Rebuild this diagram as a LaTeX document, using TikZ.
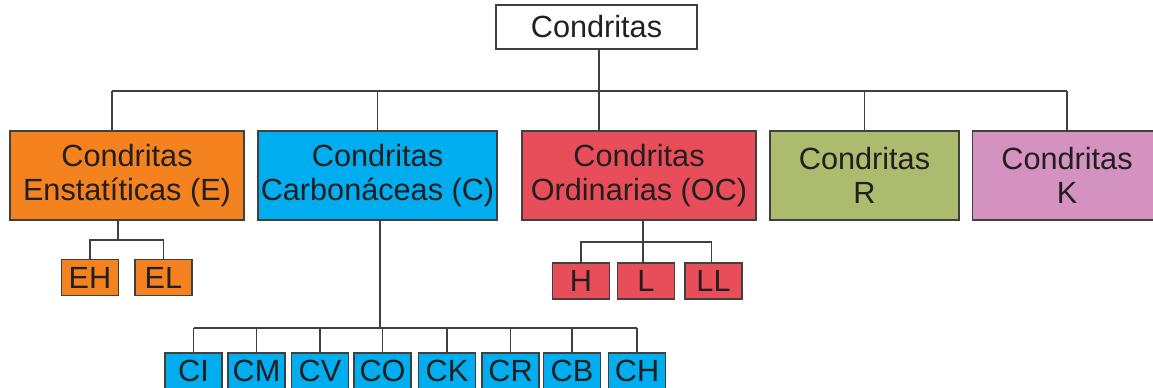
\documentclass[tikz,border=0pt]{standalone}
\usepackage{fontspec}
\setmainfont{Liberation Sans}
\usepackage{xcolor}
\usepackage{tikz}
\usetikzlibrary{positioning}

\definecolor{orangeE}{RGB}{244,130,31}
\definecolor{cyanC}{RGB}{0,174,239}
\definecolor{redOC}{RGB}{232,78,89}
\definecolor{greenR}{RGB}{173,187,111}
\definecolor{pinkK}{RGB}{211,146,191}
\definecolor{linegray}{RGB}{64,64,64}
\definecolor{textgray}{RGB}{35,31,32}

\tikzset{
    box/.style={draw=linegray, line width=1.2pt, text=textgray, align=center, inner sep=0pt,
        font=\fontsize{23}{25.5}\selectfont},
    bigbox/.style={box, minimum height=66.75pt},
    leaf/.style={box, minimum width=42.75pt, minimum height=27pt},
    link/.style={draw=linegray, line width=1.1pt}
}

\begin{document}
\begin{tikzpicture}[x=0.75pt,y=-0.75pt]
            \useasboundingbox (0,0) rectangle (1153,387);
            %root
            \node[box, minimum width=150.75pt, minimum height=33pt] (root) at (596.5,27) {Condritas};
            %groups
            \node[bigbox, fill=orangeE, minimum width=175.5pt] (E) at (127,175.5) {Condritas\\Enstatíticas (E)};
            \node[bigbox, fill=cyanC, minimum width=179.25pt] (C) at (377.5,175.5) {Condritas\\Carbonáceas (C)};
            \node[bigbox, fill=redOC, minimum width=175.5pt] (OC) at (639,175.5) {Condritas\\Ordinarias (OC)};
            \node[bigbox, fill=greenR, minimum width=141.75pt] (R) at (864.5,175.5) {Condritas\\R};
            \node[bigbox, fill=pinkK, minimum width=141.75pt] (K) at (1067,175.5) {Condritas\\K};
            %
            \coordinate (bus) at (599,91);
            \coordinate (jE) at (112,91);
            \coordinate (jOC) at (599,91);
            \draw[link] (root.south -| bus) -- (bus);
            \draw[link] (jE) -- (K.north |- bus);
            \draw[link] (jE) -- (jE |- E.north);
            \draw[link] (C.north |- bus) -- (C.north);
            \draw[link] (jOC) -- (jOC |- OC.north);
            \draw[link] (R.north |- bus) -- (R.north);
            \draw[link] (K.north |- bus) -- (K.north);
            %
            %enstatiticas
            \node[leaf, fill=orangeE] (EH) at (90,277.5) {EH};
            \node[leaf, fill=orangeE] (EL) at (163.5,277.5) {EL};
            \coordinate (ebus) at (118,240);
            \draw[link] (ebus |- E.south) -- (ebus);
            \draw[link] (EH.north) -- (EH.north |- ebus) -- (EL.north |- ebus) -- (EL.north);
            %
            %ordinarias
            \node[leaf, fill=redOC] (H) at (581,281) {H};
            \node[leaf, fill=redOC] (L) at (646,281) {L};
            \node[leaf, fill=redOC] (LL) at (713.5,281) {LL};
            \coordinate (obus) at (643,242);
            \draw[link] (obus |- OC.south) -- (obus |- L.north);
            \draw[link] (H.north) -- (H.north |- obus) -- ([xshift=-1.5pt]LL.north |- obus) -- ([xshift=-1.5pt]LL.north);
            %
            %carbonaceas
            \coordinate (cbus) at (380,328);
            \foreach \n/\x in {CI/193.5, CM/256.5, CV/320, CO/382.5, CK/447, CR/510.5, CB/572, CH/637} {
                \node[leaf, fill=cyanC] (\n) at (\x,371) {\n};
                \draw[link] (\n.north) -- (\n.north |- cbus);
            }
            \draw[link] (CI.north |- cbus) -- (CH.north |- cbus);
            \draw[link] (cbus |- C.south) -- (cbus);
            %
        \end{tikzpicture}
\end{document}
